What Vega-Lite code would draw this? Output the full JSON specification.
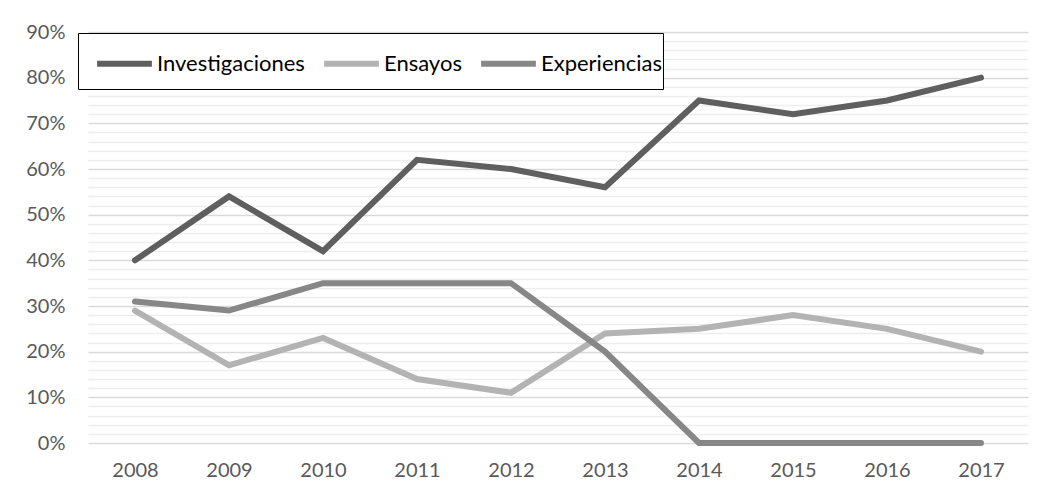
{
  "$schema": "https://vega.github.io/schema/vega-lite/v6.json",
  "width": 940,
  "height": 411,
  "autosize": {"type": "none"},
  "padding": {"left": 88, "top": 32, "right": 33, "bottom": 54},
  "background": "white",
  "config": {
    "view": {"stroke": null},
    "font": "Lato"
  },
  "data": {
    "values": [
      {"year": "2008", "serie": "Investigaciones", "v": 0.40},
      {"year": "2009", "serie": "Investigaciones", "v": 0.54},
      {"year": "2010", "serie": "Investigaciones", "v": 0.42},
      {"year": "2011", "serie": "Investigaciones", "v": 0.62},
      {"year": "2012", "serie": "Investigaciones", "v": 0.60},
      {"year": "2013", "serie": "Investigaciones", "v": 0.56},
      {"year": "2014", "serie": "Investigaciones", "v": 0.75},
      {"year": "2015", "serie": "Investigaciones", "v": 0.72},
      {"year": "2016", "serie": "Investigaciones", "v": 0.75},
      {"year": "2017", "serie": "Investigaciones", "v": 0.80},
      {"year": "2008", "serie": "Ensayos", "v": 0.29},
      {"year": "2009", "serie": "Ensayos", "v": 0.17},
      {"year": "2010", "serie": "Ensayos", "v": 0.23},
      {"year": "2011", "serie": "Ensayos", "v": 0.14},
      {"year": "2012", "serie": "Ensayos", "v": 0.11},
      {"year": "2013", "serie": "Ensayos", "v": 0.24},
      {"year": "2014", "serie": "Ensayos", "v": 0.25},
      {"year": "2015", "serie": "Ensayos", "v": 0.28},
      {"year": "2016", "serie": "Ensayos", "v": 0.25},
      {"year": "2017", "serie": "Ensayos", "v": 0.20},
      {"year": "2008", "serie": "Experiencias", "v": 0.31},
      {"year": "2009", "serie": "Experiencias", "v": 0.29},
      {"year": "2010", "serie": "Experiencias", "v": 0.35},
      {"year": "2011", "serie": "Experiencias", "v": 0.35},
      {"year": "2012", "serie": "Experiencias", "v": 0.35},
      {"year": "2013", "serie": "Experiencias", "v": 0.20},
      {"year": "2014", "serie": "Experiencias", "v": 0.0},
      {"year": "2015", "serie": "Experiencias", "v": 0.0},
      {"year": "2016", "serie": "Experiencias", "v": 0.0},
      {"year": "2017", "serie": "Experiencias", "v": 0.0}
    ]
  },
  "resolve": {"axis": {"y": "independent", "x": "independent"}},
  "layer": [
    {
      "mark": {"type": "line", "opacity": 0},
      "encoding": {
        "x": {"field": "year", "type": "ordinal", "axis": null, "scale": {"type": "point", "padding": 0.5}},
        "y": {
          "field": "v", "type": "quantitative",
          "scale": {"domain": [0, 0.9], "nice": false, "zero": true},
          "axis": {
            "orient": "left",
            "values": [0.02,0.04,0.06,0.08,0.12,0.14,0.16,0.18,0.22,0.24,0.26,0.28,0.32,0.34,0.36,0.38,0.42,0.44,0.46,0.48,0.52,0.54,0.56,0.58,0.62,0.64,0.66,0.68,0.72,0.74,0.76,0.78,0.82,0.84,0.86,0.88],
            "labels": false, "ticks": false, "domain": false, "title": null,
            "grid": true, "gridColor": "#eeeeee", "gridWidth": 1.3
          }
        }
      }
    },
    {
      "mark": {"type": "line", "strokeWidth": 6, "strokeCap": "round", "strokeJoin": "miter"},
      "encoding": {
        "x": {
          "field": "year", "type": "ordinal",
          "scale": {"type": "point", "padding": 0.5},
          "axis": {
            "title": null, "labelAngle": 0, "domain": false, "ticks": false, "grid": false,
            "labelFontSize": 20, "labelColor": "#595959", "labelPadding": 17
          }
        },
        "y": {
          "field": "v", "type": "quantitative",
          "scale": {"domain": [0, 0.9], "nice": false, "zero": true},
          "axis": {
            "orient": "left",
            "values": [0,0.1,0.2,0.3,0.4,0.5,0.6,0.7,0.8,0.9],
            "format": ".0%", "title": null, "domain": false, "ticks": false,
            "labelFontSize": 20, "labelColor": "#595959", "labelPadding": 23,
            "grid": true, "gridColor": "#d9d9d9", "gridWidth": 1.3
          }
        },
        "color": {
          "field": "serie", "type": "nominal",
          "scale": {"domain": ["Investigaciones", "Ensayos", "Experiencias"], "range": ["#5f5f5f", "#b3b3b3", "#878787"]},
          "legend": {
            "title": "\u00a0", "titleOrient": "bottom", "titleFontSize": 8, "titlePadding": 5,
            "orient": "none", "direction": "horizontal",
            "legendX": -10, "legendY": 1,
            "strokeColor": "#000000", "fillColor": "white",
            "padding": 0, "symbolOffset": 16, "columnPadding": -2,
            "symbolType": "stroke", "symbolSize": 3000, "symbolStrokeWidth": 6,
            "labelFontSize": 22, "labelColor": "#000000", "labelOffset": 2, "labelLimit": 400
          }
        }
      }
    }
  ]
}
